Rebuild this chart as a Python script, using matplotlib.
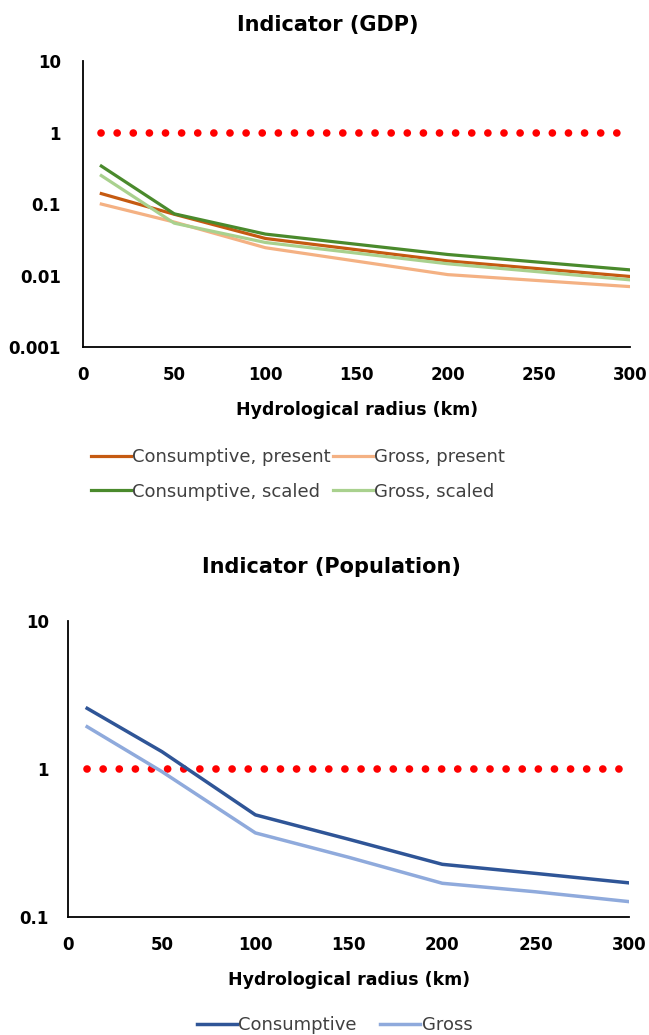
import matplotlib.pyplot as plt

# hydrological radius (km)
radius = [10, 50, 100, 200, 300]

# GDP indicator
cons_present = [0.14, 0.072, 0.033, 0.016, 0.0097]
gross_present = [0.10, 0.056, 0.0245, 0.0103, 0.0070]
cons_scaled = [0.34, 0.073, 0.038, 0.0197, 0.012]
gross_scaled = [0.25, 0.054, 0.029, 0.0146, 0.0087]

# Population indicator
radius_pop = [10, 50, 100, 150, 200, 250, 300]
pop_cons = [2.57, 1.31, 0.49, 0.335, 0.227, 0.197, 0.17]
pop_gross = [1.93, 0.96, 0.37, 0.253, 0.169, 0.148, 0.127]

threshold_x = [10, 300]
threshold_y = [1, 1]

plt.rcParams['font.family'] = ['DejaVu Sans']

fig = plt.figure(figsize=(6.49, 10.35), dpi=100)

def style_axes(ax, ylim, yticks, yticklabels, ypad):
    ax.set_yscale('log')
    ax.set_xlim(0, 300)
    ax.set_ylim(*ylim)
    ax.set_xticks([0, 50, 100, 150, 200, 250, 300])
    ax.set_yticks(yticks)
    ax.set_yticklabels(yticklabels)
    ax.minorticks_off()
    ax.tick_params(axis='x', length=0, labelsize=12, pad=14)
    ax.tick_params(axis='y', length=0, labelsize=12, pad=ypad)
    for lab in ax.get_xticklabels() + ax.get_yticklabels():
        lab.set_fontweight('bold')
    ax.spines['top'].set_visible(False)
    ax.spines['right'].set_visible(False)
    ax.spines['left'].set_linewidth(1.3)
    ax.spines['bottom'].set_linewidth(1.3)
    ax.set_xlabel('Hydrological radius (km)', fontsize=12.5, fontweight='bold', labelpad=12)
    ax.plot(threshold_x, threshold_y, color='#FF0000', lw=5.5,
            linestyle=(0, (0.01, 2.1)), dash_capstyle='round', zorder=1)

# top chart
ax1 = fig.add_axes([0.128, 0.6647, 0.843, 0.2763])
style_axes(ax1, (0.001, 10), [0.001, 0.01, 0.1, 1, 10], ['0.001', '0.01', '0.1', '1', '10'], 16)
ax1.plot(radius, cons_present, color='#C55A11', lw=2.3, label='Consumptive, present')
ax1.plot(radius, gross_present, color='#F4B183', lw=2.3, label='Gross, present')
ax1.plot(radius, cons_scaled, color='#4A8A2C', lw=2.3, label='Consumptive, scaled')
ax1.plot(radius, gross_scaled, color='#A9D18E', lw=2.3, label='Gross, scaled')
fig.text(0.505, 0.976, 'Indicator (GDP)', fontsize=15, fontweight='bold', ha='center', va='center')
handles, labels = ax1.get_legend_handles_labels()
order = [0, 2, 1, 3]
leg1 = ax1.legend([handles[i] for i in order], [labels[i] for i in order], ncol=2,
                  loc='upper center', bbox_to_anchor=(0.393, -0.296), frameon=False,
                  fontsize=13, handlelength=2.2, handletextpad=0.1, columnspacing=0.1,
                  labelspacing=0.92)
for t in leg1.get_texts():
    t.set_color('#404040')

# bottom chart
ax2 = fig.add_axes([0.1055, 0.114, 0.864, 0.286])
style_axes(ax2, (0.1, 10), [0.1, 1, 10], ['0.1', '1', '10'], 14)
ax2.plot(radius_pop, pop_cons, color='#2F5597', lw=2.5, label='Consumptive')
ax2.plot(radius_pop, pop_gross, color='#8FAADC', lw=2.5, label='Gross')
fig.text(0.51, 1 - 567 / 1035, 'Indicator (Population)', fontsize=15, fontweight='bold',
         ha='center', va='center')
leg2 = ax2.legend(ncol=2, loc='upper center', bbox_to_anchor=(0.475, -0.28), frameon=False,
                  fontsize=13, handlelength=2.2, handletextpad=0.1, columnspacing=1.3)
for t in leg2.get_texts():
    t.set_color('#404040')

fig.savefig('out.png', dpi=100)
